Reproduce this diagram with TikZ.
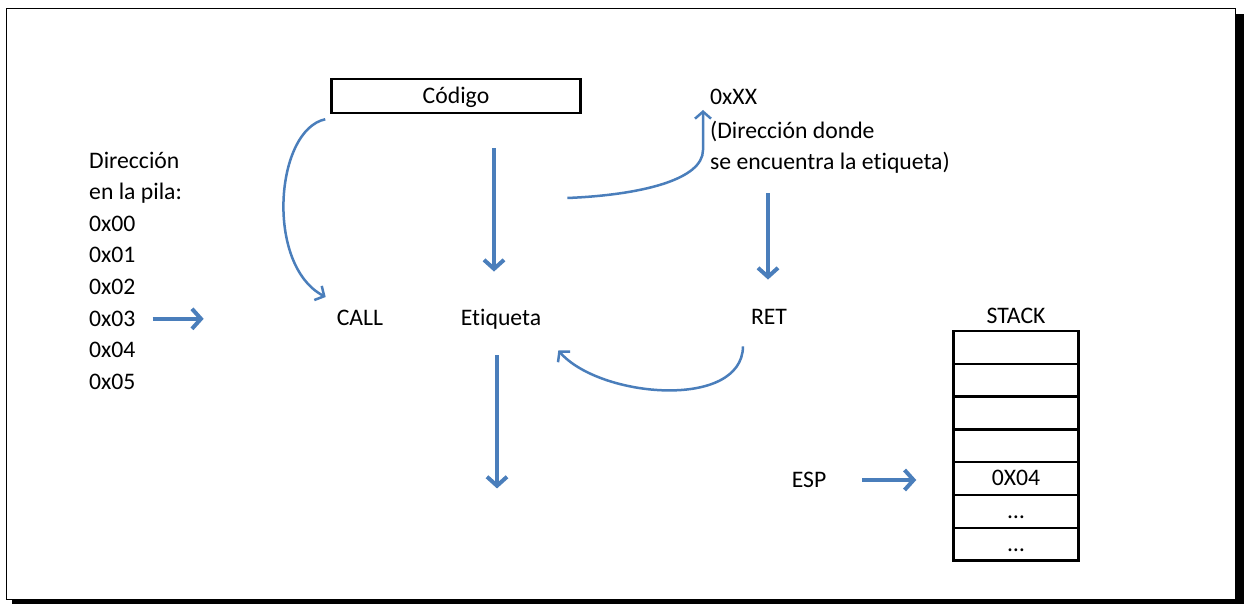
\documentclass[tikz,border=0pt]{standalone}
\usepackage{fontspec}
\setmainfont{Carlito}[Ligatures=NoCommon]
\usepackage{tikz}
\usetikzlibrary{arrows.meta, positioning, calc}
\definecolor{arrowblue}{RGB}{74,126,187}

\begin{document}
\begin{tikzpicture}[
  x=1pt, y=-1pt,
  every node/.style={font=\fontsize{23.7}{28}\selectfont, inner sep=0pt},
  txt/.style={text height=15.5pt, text depth=1pt},
  codebox/.style={draw, line width=2.5pt, minimum width=249pt, minimum height=34pt, text height=15.5pt, text depth=1pt},
  cell/.style={draw, line width=2.5pt, minimum width=125pt, minimum height=32.8pt, text height=15.5pt, text depth=1pt},
  fat/.style={draw=arrowblue, line width=4pt, -{Straight Barb[length=9pt, width=20pt]}},
  curvy/.style={draw=arrowblue, line width=2.5pt, -{Straight Barb[length=7pt, width=16pt]}}
]
\useasboundingbox (0,0) rectangle (1246,604);
\fill[black] (12,14) rectangle (1244,604);
\draw[fill=white, line width=1pt] (6.5,8.5) rectangle (1235,599.5);

% left column
\node[txt, anchor=west] (dir) at (89,161) {Dirección};
\node[txt, anchor=west] (pila) at (89,192) {en la pila:};
\foreach \i in {0,...,5}
  \node[txt, anchor=west] (a\i) at (89,{224+31.6*\i}) {0x0\i};

% main flow
\node[codebox] (codigo) at (456,96) {Código};
\node[txt] (call) at (360,318) {CALL};
\node[txt] (etiq) at (501,318) {Etiqueta};
\node[txt] (ret) at (769,317) {RET};
\node[txt, anchor=west] (xx0) at (710,97) {0xXX};
\node[txt, anchor=west] (xx1) at (710,131) {(Dirección donde};
\node[txt, anchor=west] (xx2) at (710,162) {se encuentra la etiqueta)};

% stack
\foreach \i/\t in {0/,1/,2/,3/,4/0X04,5/…,6/…}
  \node[cell] (s\i) at (1016,{347.4+32.8*\i}) {\t};
\node[txt, above=5pt of s0] (stacklbl) {STACK};
\node[txt] (esp) at (809,480) {ESP};

\draw[fat, shorten <=17pt, shorten >=133pt] (a3.east) -- (a3.east -| call.west);
\draw[fat, shorten <=34pt, shorten >=38pt] ([xshift=-7pt]etiq.north |- codigo.south) -- ([xshift=-7pt]etiq.north);
\draw[fat] ([shift={(-4,29)}]etiq.south) -- ++(0,133);
\draw[fat, shorten <=23pt, shorten >=29pt] ([xshift=-1pt]ret.north |- xx2.south) -- ([xshift=-1pt]ret.north);
\draw[fat, shorten <=36pt, shorten >=36pt] (esp.east) -- (esp.east -| s4.west);

\draw[curvy] ([shift={(-5,5)}]codigo.south west) .. controls (275,130) and (265,265) .. ([shift={(-11,-21)}]call.west);
\draw[curvy] ([shift={(26,-120)}]etiq.east) .. controls (640,195) and (703,180) .. (703,150) -- ([shift={(-7,13)}]xx0.west);
\draw[curvy] ([shift={(-26,21)}]ret.south) .. controls (742,410) and (600,398) .. ([shift={(17,24)}]etiq.south east);

\end{tikzpicture}
\end{document}
